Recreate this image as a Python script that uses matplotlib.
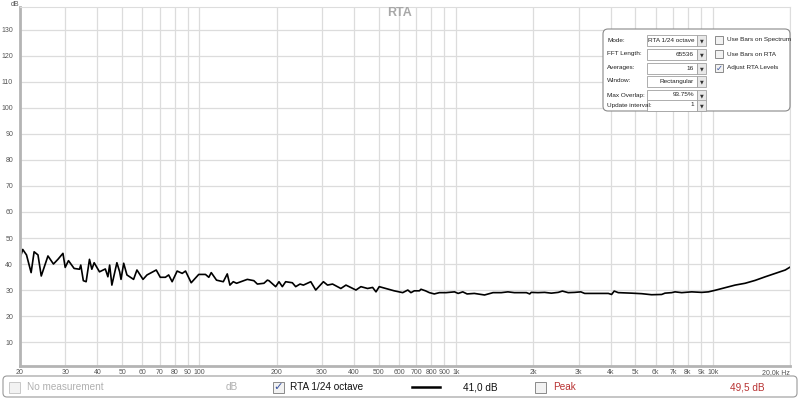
import matplotlib.pyplot as plt
from matplotlib.patches import FancyBboxPatch, Rectangle

plt.rcParams["font.family"] = ["Liberation Sans", "DejaVu Sans"]

# RTA 1/24 octave trace
freq_hz = [
    20, 20.5, 21.2, 22.1, 22.7, 23.5, 24.2, 25.7, 27.0, 28.1, 29.4, 30.0,
    30.9, 32.5, 34.1, 34.5, 35.3, 36.2, 37.3, 38.1, 38.9, 40.8, 43.0, 44.0,
    44.7, 45.6, 47.7, 48.9, 49.5, 50.7, 52.2, 55.4, 57.1, 60.3, 62.5, 67.9,
    70.4, 73.7, 75.9, 78.3, 81.9, 85.7, 88.3, 92.9, 99.4, 105.6, 108.8, 111.2,
    116.6, 123.9, 128.4, 131.5, 135.5, 139.6, 153.7, 163, 168.2, 178.4, 184.0,
    186.6, 198.2, 204.2, 210.4, 216.8, 230.2, 237.2, 246.6, 254.2, 271.6,
    283.9, 304.2, 315.6, 330.2, 355.7, 372.4, 407.3, 425.8, 452, 473, 487.5,
    502, 533, 574, 619.6, 648.6, 667, 687.6, 719.6, 730, 760, 787, 822.6, 861,
    914, 986, 1019, 1062, 1104, 1178, 1291, 1393, 1500, 1592, 1687, 1880, 1936,
    1963, 2084, 2213, 2350, 2500, 2595, 2735, 2900, 3062, 3170, 3580, 3920,
    4036, 4132, 4285, 4830, 5285, 5780, 6325, 6515, 6920, 7130, 7570, 8280,
    9060, 9620, 10210, 11170, 12220, 13370, 14620, 16020, 17530, 19170, 20000,
]
level_db = [
    42.2, 45.6, 43.5, 36.7, 44.7, 43.5, 35.4, 43.1, 40.0, 41.8, 44.1, 38.7,
    41.3, 38.3, 38.0, 39.6, 33.6, 33.2, 41.8, 38.0, 40.5, 37.0, 38.1, 35.1,
    39.6, 31.9, 40.5, 37.0, 34.1, 40.3, 35.8, 34.1, 37.7, 34.1, 35.8, 37.7,
    34.9, 34.9, 35.8, 33.2, 37.3, 36.4, 37.3, 32.8, 36.0, 36.0, 34.9, 36.7,
    33.8, 33.2, 36.2, 31.9, 33.2, 32.6, 34.1, 33.6, 32.3, 32.6, 33.8,
    33.6, 31.3, 33.2, 31.3, 33.2, 32.8, 31.3, 32.3, 31.9, 33.2,
    30.0, 33.2, 31.9, 32.3, 30.6, 31.9, 30.0, 31.3, 30.6, 31.0, 29.3,
    31.3, 30.6, 29.7, 29.0, 30.0, 29.0, 29.7, 29.7, 30.3, 29.7, 29.0, 28.5, 29.0,
    29.0, 29.3, 28.7, 29.3, 28.5, 28.7, 28.1, 29.0, 29.0, 29.3, 29.0, 29.0, 28.5,
    29.1, 29.0, 29.1, 28.8, 29.1, 29.6, 29.0, 29.1, 29.3, 28.7, 28.7, 28.7,
    28.3, 29.6, 29.0, 28.8, 28.6, 28.2, 28.3, 28.8, 29.0, 29.3, 29.0, 29.3,
    29.1, 29.3, 29.9, 30.9, 31.9, 32.6, 33.7, 35.1, 36.4, 37.7, 38.8,
]

x_ticks = [20, 30, 40, 50, 60, 70, 80, 90, 100, 200, 300, 400, 500, 600, 700,
           800, 900, 1000, 2000, 3000, 4000, 5000, 6000, 7000, 8000, 9000,
           10000, 20000]
x_tick_labels = ["20", "30", "40", "50", "60", "70", "80", "90", "100", "200",
                 "300", "400", "500", "600", "700", "800", "900", "1k", "2k",
                 "3k", "4k", "5k", "6k", "7k", "8k", "9k", "10k", "20,0k Hz"]
y_ticks = [10, 20, 30, 40, 50, 60, 70, 80, 90, 100, 110, 120, 130]

# settings panel contents
setting_rows = [("Mode:", "RTA 1/24 octave"), ("FFT Length:", "65536"),
                ("Averages:", "16"), ("Window:", "Rectangular"),
                ("Max Overlap:", "93.75%"), ("Update interval:", "1")]
setting_row_y = [40, 54, 68, 81, 95, 105]
option_labels = ["Use Bars on Spectrum", "Use Bars on RTA", "Adjust RTA Levels"]
option_checked = [False, False, True]

W, H = 800, 400
fig = plt.figure(figsize=(W / 100, H / 100), dpi=100)
fig.patch.set_facecolor("white")

# main plot, positioned in pixels
left, right, top, bottom = 20, 790, 7, 366
ax = fig.add_axes([left / W, 1 - bottom / H, (right - left) / W, (bottom - top) / H])
ax.set_xscale("log")
ax.set_xlim(20, 20000)
ax.set_ylim(0.8, 138.8)
ax.minorticks_off()
ax.set_xticks(x_ticks, x_tick_labels)
ax.set_yticks(y_ticks, [str(v) for v in y_ticks])
ax.tick_params(length=0, labelsize=5, labelcolor="#555555")
ax.tick_params(axis="x", pad=2)
ax.tick_params(axis="y", pad=5)
# the last label sits against the right edge
ax.get_xticklabels()[-1].set_horizontalalignment("right")
ax.grid(True, color="#dcdcdc", linewidth=0.9)
for side in ["left", "bottom"]:
    ax.spines[side].set_color("#b4b4b4")
    ax.spines[side].set_linewidth(2)
for side in ["top", "right"]:
    ax.spines[side].set_color("#dddddd")
    ax.spines[side].set_linewidth(0.8)

ax.plot(freq_hz, level_db, color="black", linewidth=1.2)

# overlay in pixel coordinates for the REW widgets
ui = fig.add_axes([0, 0, 1, 1])
ui.set_xlim(0, W)
ui.set_ylim(H, 0)
ui.axis("off")
ui.patch.set_alpha(0)

ui.text(15, 4, "dB", fontsize=5, color="#555555", ha="center", va="center")
ui.text(400, 13, "RTA", fontsize=9, fontweight="bold", color="#a8a8a8",
        ha="center", va="center")


def checkbox(x, y, size, checked, greyed=False):
    ec = "#c8c8c8" if greyed else "#8a8a8a"
    ui.add_patch(Rectangle((x, y - size / 2), size, size, facecolor="#f2f2f2",
                           edgecolor=ec, linewidth=0.7))
    if checked:
        ui.text(x + size / 2, y, "\u2713", fontsize=size * 0.75, color="#3a55a0",
                ha="center", va="center", family=["DejaVu Sans"])


# settings panel
ui.add_patch(FancyBboxPatch((603, 29), 187, 82, boxstyle="round,pad=0,rounding_size=5",
                            facecolor="white", edgecolor="#8a8a8a", linewidth=0.8))
for (label, value), y in zip(setting_rows, setting_row_y):
    ui.text(607, y, label, fontsize=4.6, color="#222222", va="center")
    ui.add_patch(Rectangle((647, y - 5.5), 50, 11, facecolor="white",
                           edgecolor="#a0a0a0", linewidth=0.6))
    ui.text(694, y, value, fontsize=4.6, color="#222222", ha="right", va="center")
    ui.add_patch(Rectangle((697, y - 5.5), 9, 11, facecolor="#e8e8e8",
                           edgecolor="#a0a0a0", linewidth=0.6))
    ui.text(701.5, y + 0.5, "\u25bc", fontsize=3.5, color="#333333",
            ha="center", va="center", family=["DejaVu Sans"])
for label, checked, y in zip(option_labels, option_checked, setting_row_y):
    checkbox(715, y, 8, checked)
    ui.text(727, y, label, fontsize=4.6, color="#222222", va="center")

# bottom legend bar
ui.add_patch(FancyBboxPatch((3, 376), 794, 21, boxstyle="round,pad=0,rounding_size=4",
                            facecolor="white", edgecolor="#9a9a9a", linewidth=0.8))
bar_y = 387
checkbox(9, bar_y, 11, False, greyed=True)
ui.text(27, bar_y, "No measurement", fontsize=7.2, color="#b0b0b0", va="center")
ui.text(226, bar_y, "dB", fontsize=7.2, color="#b0b0b0", va="center")
checkbox(273, bar_y, 11, True)
ui.text(290, bar_y, "RTA 1/24 octave", fontsize=7.2, color="#111111", va="center")
ui.plot([412, 440], [bar_y, bar_y], color="black", linewidth=1.8)
ui.text(463, bar_y, "41,0 dB", fontsize=7.2, color="#111111", va="center")
checkbox(535, bar_y, 11, False)
ui.text(553, bar_y, "Peak", fontsize=7.2, color="#b83232", va="center")
ui.text(730, bar_y, "49,5 dB", fontsize=7.2, color="#b83232", va="center")

fig.savefig("out.png", dpi=100, facecolor="white")
